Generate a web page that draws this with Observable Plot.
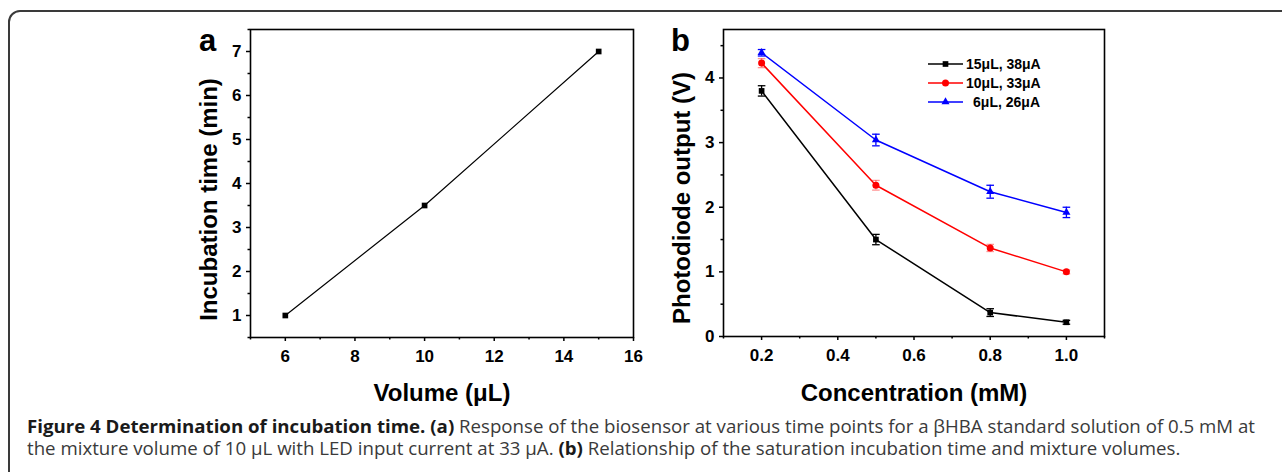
<!DOCTYPE html>
<html><head><meta charset="utf-8">
<script src="https://cdn.jsdelivr.net/npm/d3@7"></script>
<script src="https://cdn.jsdelivr.net/npm/@observablehq/plot@0.6"></script>
<style>
html,body{margin:0;padding:0;background:#fff;}
#root{position:relative;width:1282px;height:472px;overflow:hidden;background:#fff;}
#border{position:absolute;left:8px;top:10px;width:1320px;height:520px;border:2px solid #3a3a3a;border-radius:12px;box-sizing:border-box;}
.panel{position:absolute;top:0;}
.letter{position:absolute;font-family:"Liberation Sans",Arial,sans-serif;font-weight:bold;font-size:31px;line-height:1;color:#000;}
.legend-row{position:absolute;display:flex;align-items:center;height:18px;font-family:"Liberation Sans",Arial,sans-serif;font-weight:bold;font-size:14px;color:#000;}
.legend-row span{display:inline-block;width:74px;text-align:right;margin-left:3px;white-space:nowrap;}
.caption{position:absolute;left:27px;white-space:nowrap;font-family:"Open Sans",sans-serif;font-size:17.5px;line-height:1;color:#3a3a3a;transform-origin:0 0;}
.caption b{color:#1a1a1a;}
</style></head>
<body>
<div id="root">
  <div id="border"></div>
  <div id="panelA" class="panel" style="left:140px"></div>
  <div id="panelB" class="panel" style="left:640px"></div>
  <div class="letter" style="left:199px;top:25px">a</div>
  <div class="letter" style="left:671px;top:25px">b</div>
  <div id="legend"></div>
  <div id="cap1" class="caption" style="top:418px"><b>Figure 4 Determination of incubation time.</b> <b>(a)</b> Response of the biosensor at various time points for a βHBA standard solution of 0.5 mM at</div>
  <div id="cap2" class="caption" style="top:440px">the mixture volume of 10 μL with LED input current at 33 μA. <b>(b)</b> Relationship of the saturation incubation time and mixture volumes.</div>
</div>
<script>
// ---- Panel a data ----
const volumes = [6, 10, 15];
const incubationTimes = [1, 3.5, 7];
const volumeTicks = [6, 8, 10, 12, 14, 16];
const volumeMinorTicks = [5, 7, 9, 11, 13, 15];
const timeTicks = [1, 2, 3, 4, 5, 6, 7];
const timeMinorTicks = [0.5, 1.5, 2.5, 3.5, 4.5, 5.5, 6.5, 7.5];

// ---- Panel b data ----
const concentrations = [0.2, 0.5, 0.8, 1.0];
const seriesNames = ["15μL, 38μA", "10μL, 33μA", "6μL, 26μA"];
const output15 = [3.80, 1.50, 0.37, 0.22];
const error15 = [0.08, 0.08, 0.06, 0.03];
const output10 = [4.23, 2.34, 1.37, 1.00];
const error10 = [0.07, 0.075, 0.055, 0.03];
const output6 = [4.39, 3.04, 2.24, 1.92];
const error6 = [0.05, 0.09, 0.10, 0.08];
const concTicks = [0.2, 0.4, 0.6, 0.8, 1.0];
const concMinorTicks = [0.1, 0.3, 0.5, 0.7, 0.9, 1.1];
const voltTicks = [0, 1, 2, 3, 4];
const voltMinorTicks = [0.5, 1.5, 2.5, 3.5, 4.5];

const outputs = [output15, output10, output6];
const errors = [error15, error10, error6];
const seriesStyle = [
  {color: "#000000", err: "#000000", symbol: "square", r: 3.2},
  {color: "#ff0000", err: "rgba(255,60,60,0.55)", symbol: "circle", r: 3.5},
  {color: "#0000ff", err: "#0000ff", symbol: "triangle", r: 3}
];

const font = "'Liberation Sans', Arial, sans-serif";
const baseStyle = {fontFamily: font, fontSize: "17px", fontWeight: "bold", color: "#000", background: "transparent", overflow: "visible"};
const capSymbol = {draw(ctx, size) { const h = Math.sqrt(size / Math.PI); ctx.moveTo(-h, 0); ctx.lineTo(h, 0); }};

// ---- Panel a ----
const dataA = volumes.map((v, i) => ({v, t: incubationTimes[i]}));
const plotA = Plot.plot({
  width: 520, height: 400,
  marginLeft: 110, marginRight: 27, marginTop: 29, marginBottom: 63,
  x: {domain: [5, 16]}, y: {domain: [0.5, 7.5]},
  style: baseStyle,
  marks: [
    Plot.axisX(volumeTicks, {tickSize: 4, tickPadding: 8, strokeWidth: 1.5, label: null, tickFormat: d3.format("d")}),
    Plot.axisX(volumeMinorTicks, {tickSize: 2.5, strokeWidth: 1.5, label: null, tickFormat: () => ""}),
    Plot.axisY(timeTicks, {tickSize: 4, tickPadding: 5, strokeWidth: 1.5, label: null, tickFormat: d3.format("d")}),
    Plot.axisY(timeMinorTicks, {tickSize: 2.5, strokeWidth: 1.5, label: null, tickFormat: () => ""}),
    Plot.frame({stroke: "#000", strokeWidth: 1.6, fill: "none"}),
    Plot.line(dataA, {x: "v", y: "t", stroke: "#000", strokeWidth: 1.2}),
    Plot.dot(dataA, {x: "v", y: "t", symbol: "square", r: 3.2, fill: "#000"}),
    Plot.text(["Volume (μL)"], {text: d => d, frameAnchor: "bottom", dy: 63, lineAnchor: "bottom", textAnchor: "middle", fontSize: 24}),
    Plot.text(["Incubation time (min)"], {text: d => d, frameAnchor: "left", rotate: -90, dx: -51, dy: 16, lineAnchor: "top", textAnchor: "middle", fontSize: 24})
  ]
});
document.getElementById("panelA").appendChild(plotA);

// ---- Panel b ----
const seriesMarks = seriesNames.flatMap((name, i) => {
  const rows = concentrations.map((c, j) => ({c, v: outputs[i][j], e: errors[i][j]}));
  const s = seriesStyle[i];
  return [
    Plot.ruleX(rows, {x: "c", y1: d => d.v - d.e, y2: d => d.v + d.e, stroke: s.err, strokeWidth: 1.3}),
    Plot.dot(rows, {x: "c", y: d => d.v - d.e, symbol: capSymbol, r: 3.8, stroke: s.err, strokeWidth: 1.3}),
    Plot.dot(rows, {x: "c", y: d => d.v + d.e, symbol: capSymbol, r: 3.8, stroke: s.err, strokeWidth: 1.3}),
    Plot.line(rows, {x: "c", y: "v", stroke: s.color, strokeWidth: 1.5}),
    Plot.dot(rows, {x: "c", y: "v", symbol: s.symbol, r: s.r, fill: s.color})
  ];
});
const plotB = Plot.plot({
  width: 500, height: 400,
  marginLeft: 83, marginRight: 36, marginTop: 29, marginBottom: 64,
  x: {domain: [0.1, 1.1]}, y: {domain: [0, 4.75]},
  style: baseStyle,
  marks: [
    Plot.axisX(concTicks, {tickSize: 4, tickPadding: 8, strokeWidth: 1.5, label: null, tickFormat: d3.format(".1f")}),
    Plot.axisX(concMinorTicks, {tickSize: 2.5, strokeWidth: 1.5, label: null, tickFormat: () => ""}),
    Plot.axisY(voltTicks, {tickSize: 4, tickPadding: 5, strokeWidth: 1.5, label: null, tickFormat: d3.format("d")}),
    Plot.axisY(voltMinorTicks, {tickSize: 2.5, strokeWidth: 1.5, label: null, tickFormat: () => ""}),
    Plot.frame({stroke: "#000", strokeWidth: 1.6, fill: "none"}),
    ...seriesMarks,
    Plot.text(["Concentration (mM)"], {text: d => d, frameAnchor: "bottom", dy: 64, lineAnchor: "bottom", textAnchor: "middle", fontSize: 24}),
    Plot.text(["Photodiode output (V)"], {text: d => d, frameAnchor: "left", rotate: -90, dx: -51, dy: 15, lineAnchor: "top", textAnchor: "middle", fontSize: 24})
  ]
});
document.getElementById("panelB").appendChild(plotB);

// ---- Legend ----
const legend = document.getElementById("legend");
const legendY = [64.3, 83.3, 101.7];
seriesNames.forEach((name, i) => {
  const s = seriesStyle[i];
  const row = document.createElement("div");
  row.className = "legend-row";
  row.style.left = "928px";
  row.style.top = (legendY[i] - 9) + "px";
  const sym = d3.symbol(s.symbol === "square" ? d3.symbolSquare : s.symbol === "circle" ? d3.symbolCircle : d3.symbolTriangle, s.r * s.r * Math.PI)();
  row.innerHTML = `<svg width="35" height="12" style="overflow:visible"><line x1="0" x2="35" y1="6" y2="6" stroke="${s.color}" stroke-width="1.5"/><path d="${sym}" transform="translate(17.5,6)" fill="${s.color}"/></svg><span>${name}</span>`;
  legend.appendChild(row);
});

// ---- Caption fit ----
const c1 = document.getElementById("cap1"), c2 = document.getElementById("cap2");
const w1 = c1.getBoundingClientRect().width;
const k = 1228 / w1;
c1.style.transform = `scaleX(${k})`;
c2.style.transform = `scaleX(${k})`;
</script>
</body></html>
